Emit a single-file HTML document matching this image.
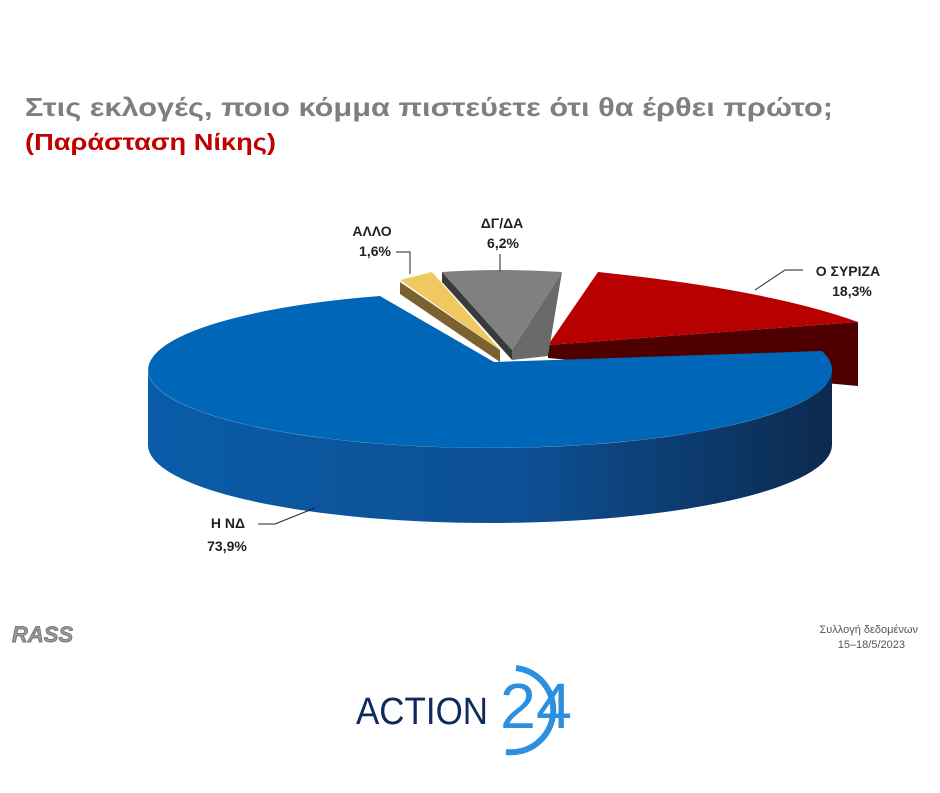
<!DOCTYPE html>
<html><head><meta charset="utf-8"><style>
body{margin:0;background:#fff;width:940px;height:788px;overflow:hidden;font-family:"Liberation Sans",sans-serif}
</style></head><body>
<svg width="940" height="788" viewBox="0 0 940 788">
<defs>
<linearGradient id="bs" x1="0" x2="1" y1="0" y2="0">
<stop offset="0" stop-color="#0a5ca8"/><stop offset="0.55" stop-color="#0d4f94"/><stop offset="1" stop-color="#0c2a4e"/>
</linearGradient>
</defs>
<text x="25" y="116" font-size="26" font-weight="bold" fill="#7f7f7f" textLength="808" lengthAdjust="spacingAndGlyphs">Στις εκλογές, ποιο κόμμα πιστεύετε ότι θα έρθει πρώτο;</text>
<text x="25" y="150" font-size="23" font-weight="bold" fill="#c00000" textLength="251" lengthAdjust="spacingAndGlyphs">(Παράσταση Νίκης)</text>
<!-- red -->
<path d="M548,345 L858,322 L858,386 L548,358 Z" fill="#4e0000"/>
<path d="M548,345 L598,272 Q770,290 858,322 Z" fill="#b80000"/>
<!-- grey -->
<path d="M442,272 L512,350 L512,360 L442,282 Z" fill="#3a3a3a"/>
<path d="M562,272 L548,356 L512,360 L512,350 Z" fill="#6a6a6a"/>
<path d="M442,272 Q502,268 562,272 L512,350 Z" fill="#808080"/>
<!-- yellow -->
<path d="M400,282 L500,350 L500,362 L400,294 Z" fill="#7a6230"/>
<path d="M400,280 L432,272 L500,350 Z" fill="#f0c860"/>
<!-- blue -->
<path d="M148,370 A342,78 0 0 0 832,370 L832,445 A342,78 0 0 1 148,445 Z" fill="url(#bs)"/>
<path d="M494,362 L380,296 A342,78 0 1 0 822,351 Z" fill="#0066b8"/>
<!-- labels -->
<g font-size="14" font-weight="bold" fill="#222" text-anchor="middle">
<text x="372" y="236">ΑΛΛΟ</text><text x="375" y="256">1,6%</text>
<text x="502" y="228">ΔΓ/ΔΑ</text><text x="503" y="248">6,2%</text>
<text x="848" y="276">Ο ΣΥΡΙΖΑ</text><text x="852" y="296">18,3%</text>
<text x="228" y="528">Η ΝΔ</text><text x="227" y="551">73,9%</text>
</g>
<g stroke="#222" stroke-width="1" fill="none">
<polyline points="396,252 410,252 410,274"/>
<polyline points="500,254 500,271"/>
<polyline points="803,270 785,270 755,290"/>
<polyline points="258,524 275,524 315,508"/>
</g>
<text x="12" y="642" font-size="22" font-weight="bold" font-style="italic" fill="#999" stroke="#666" stroke-width="0.7">RASS</text>
<text x="918" y="633" font-size="11" fill="#555" text-anchor="end">Συλλογή δεδομένων</text>
<text x="905" y="648" font-size="11" fill="#555" text-anchor="end">15–18/5/2023</text>
<text x="356" y="724" font-size="38" fill="#0f2a5c" textLength="132" lengthAdjust="spacingAndGlyphs">ACTION</text>
<text x="500" y="728" font-size="64" fill="#2d8fe0" textLength="72" lengthAdjust="spacingAndGlyphs">24</text>
<path d="M516,668 A42,42 0 1 1 506,752" stroke="#2d8fe0" stroke-width="6" fill="none"/>
</svg>
</body></html>
